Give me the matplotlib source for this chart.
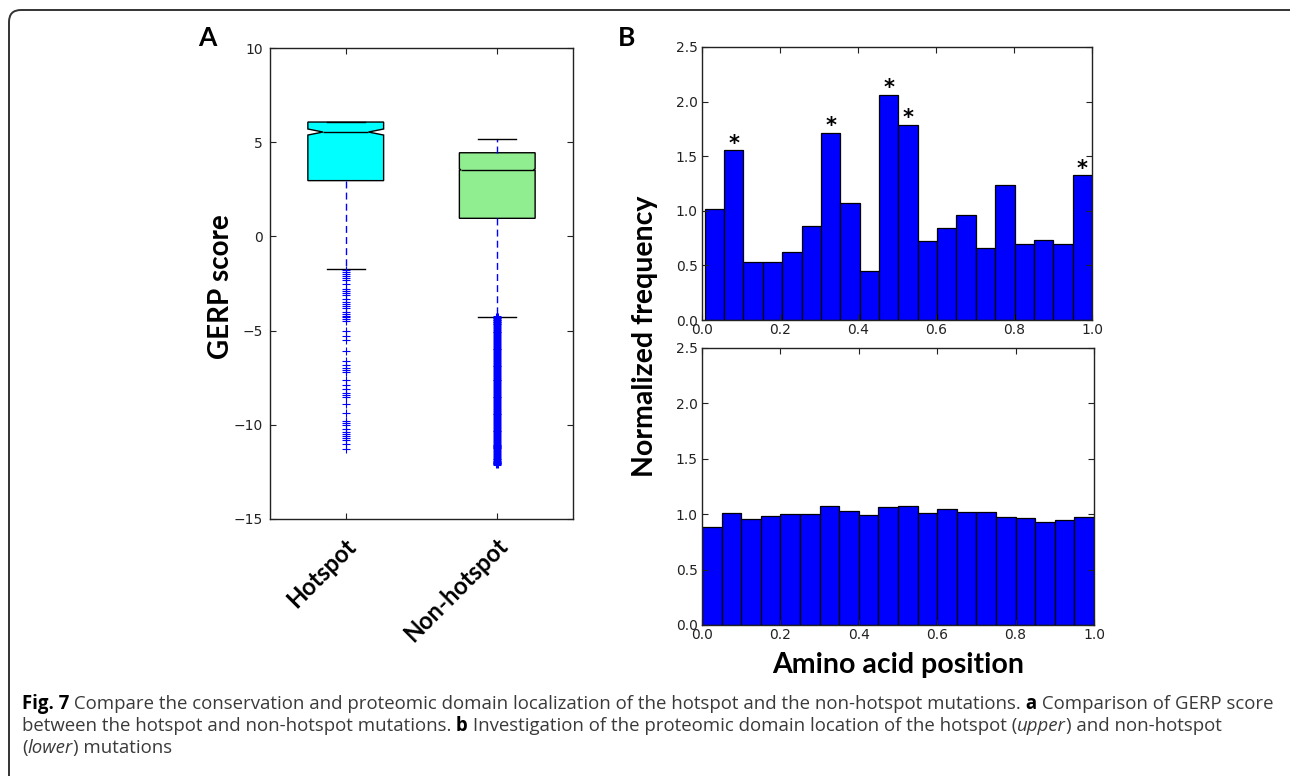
import numpy as np
import matplotlib
matplotlib.use("Agg")
import matplotlib.pyplot as plt
from matplotlib.patches import FancyBboxPatch
from matplotlib.path import Path
from matplotlib.transforms import ScaledTranslation, IdentityTransform

# ---- data ----
groups = ["Hotspot", "Non-hotspot"]
box_q1 = [2.96, 0.96]
box_med = [5.54, 3.54]
box_q3 = [6.07, 4.44]
box_whislo = [-1.72, -4.26]
box_whishi = [6.07, 5.17]
box_cilo = [5.38, 3.50]
box_cihi = [5.70, 3.58]
hot_fliers = [-1.8, -1.9, -2.0, -2.1, -2.2, -2.3, -2.5, -2.8, -2.9, -3.0, -3.1,
              -3.3, -3.5, -3.6, -3.7, -3.8, -4.0, -4.1, -4.2, -4.3, -4.4, -4.5,
              -5.0, -5.3, -5.5, -6.1, -6.6, -6.8, -7.0, -7.1, -7.2, -7.6, -7.9,
              -8.1, -8.3, -8.4, -8.5, -8.9, -9.4, -9.8, -9.9, -10.0, -10.2,
              -10.4, -10.5, -10.6, -10.7, -10.8, -11.0, -11.3]
nonhot_fliers = [-4.3, -4.4, -4.5, -4.6, -4.7, -4.85, -5.0, -5.15, -5.3, -5.45,
                 -5.6, -5.75, -5.9, -6.05, -6.2, -6.35, -6.5, -6.65, -6.8, -6.95,
                 -7.1, -7.25, -7.4, -7.55, -7.7, -7.85, -8.0, -8.15, -8.3, -8.45,
                 -8.6, -8.75, -8.9, -9.05, -9.2, -9.35, -9.5, -9.65, -9.8, -9.95,
                 -10.1, -10.25, -10.4, -10.55, -10.7, -10.85, -11.0, -11.1, -11.2,
                 -11.3, -11.45, -11.6, -11.75, -11.85, -11.95, -12.05, -12.1]

hot_hist = [1.02, 1.555, 0.534, 0.534, 0.625, 0.857, 1.716, 1.07, 0.445, 2.061,
            1.79, 0.72, 0.841, 0.966, 0.659, 1.232, 0.695, 0.732, 0.695, 1.326]
hot_bin_start = 0.007
hot_star_bins = [1, 6, 9, 10, 19]
nonhot_hist = [0.88, 1.015, 0.961, 0.982, 1.0, 1.006, 1.078, 1.03, 0.994, 1.063,
               1.072, 1.015, 1.048, 1.021, 1.021, 0.979, 0.967, 0.93, 0.952, 0.976]

W, H = 1290, 776
LABEL_FONT = ["Lato", "DejaVu Sans"]
CAP_FONT = ["Open Sans", "DejaVu Sans"]

plt.rcParams.update({
    "font.family": "DejaVu Sans",
    "xtick.direction": "in",
    "ytick.direction": "in",
    "xtick.top": True,
    "ytick.right": True,
    "axes.linewidth": 1.0,
    "axes.edgecolor": "#222222",
})

fig = plt.figure(figsize=(W / 100, H / 100), dpi=100)


def px_axes(left, right, top, bottom):
    return fig.add_axes([left / W, 1 - bottom / H, (right - left) / W, (bottom - top) / H])


def style_ticks(ax):
    ax.tick_params(axis="both", which="major", length=4, width=0.8,
                   labelsize=10, colors="#222222", pad=3)
    ax.tick_params(axis="both", which="minor", length=0)


# ---- panel A: boxplot ----
axA = px_axes(270, 573, 48, 519)
stats = []
for i in range(2):
    stats.append(dict(med=box_med[i], q1=box_q1[i], q3=box_q3[i],
                      whislo=box_whislo[i], whishi=box_whishi[i],
                      cilo=box_cilo[i], cihi=box_cihi[i],
                      fliers=hot_fliers if i == 0 else nonhot_fliers,
                      label=groups[i]))
positions = [1, 2]
notch_half = [0.15, 0.24]
bp = axA.bxp(stats, positions=positions, widths=0.5, capwidths=0.25,
             shownotches=True, patch_artist=True,
             boxprops=dict(edgecolor="black", linewidth=1.0),
             whiskerprops=dict(color="blue", linestyle=(0, (5, 3)), linewidth=1.0),
             capprops=dict(color="black", linewidth=1.0),
             medianprops=dict(color="black", linewidth=1.0),
             flierprops=dict(marker="+", markeredgecolor="blue", markersize=6,
                             markeredgewidth=0.8, linestyle="none"))
for patch, fc, pos, nh in zip(bp["boxes"], ["cyan", "#90ee90"], positions, notch_half):
    patch.set_facecolor(fc)
    verts = patch.get_path().vertices.copy()
    verts[3, 0] = pos + nh
    verts[8, 0] = pos - nh
    patch.set_path(Path(verts, patch.get_path().codes))
for med, pos, nh in zip(bp["medians"], positions, notch_half):
    med.set_xdata([pos - nh, pos + nh])
# the non-hotspot outliers form a solid band in the reference
bp["fliers"][1].set_markeredgewidth(2.2)

axA.set_xlim(0.5, 2.5)
axA.set_ylim(-15, 10)
axA.set_yticks([-15, -10, -5, 0, 5, 10])
style_ticks(axA)
axA.tick_params(axis="y", pad=5)
axA.set_xticks(positions)
axA.set_xticklabels(groups, rotation=45, ha="right", va="top",
                    fontsize=17, fontweight="bold", family=LABEL_FONT, color="black")
axA.tick_params(axis="x", pad=11)
for lab in axA.get_xticklabels():
    lab.set_transform(lab.get_transform() + ScaledTranslation(0.15, 0, fig.dpi_scale_trans))
fig.text(221 / W, 1 - 287 / H, "GERP score", rotation=90, ha="center", va="center",
         fontsize=20, fontweight="bold", family=LABEL_FONT)
fig.text(207 / W, 1 - 38 / H, "A", ha="center", va="center",
         fontsize=19, fontweight="bold", family=LABEL_FONT)

# ---- panel B: histograms ----
axT = px_axes(702, 1092, 47, 320)
axB = px_axes(702, 1094, 348, 625)

hot_edges = np.linspace(hot_bin_start, 1.0, len(hot_hist) + 1)
axT.bar(hot_edges[:-1], hot_hist, width=np.diff(hot_edges), align="edge",
        color="#0000ff", edgecolor="black", linewidth=0.9)
for b in hot_star_bins:
    xc = (hot_edges[b] + hot_edges[b + 1]) / 2
    axT.text(xc, hot_hist[b] + 0.005, "*", ha="center", va="baseline",
             fontsize=15, fontweight="bold", color="black")

non_edges = np.linspace(0.0, 1.0, len(nonhot_hist) + 1)
axB.bar(non_edges[:-1], nonhot_hist, width=np.diff(non_edges), align="edge",
        color="#0000ff", edgecolor="black", linewidth=0.9)

for ax in (axT, axB):
    ax.set_xlim(0, 1)
    ax.set_ylim(0, 2.5)
    ax.set_xticks([0, 0.2, 0.4, 0.6, 0.8, 1.0])
    ax.set_yticks([0, 0.5, 1.0, 1.5, 2.0, 2.5])
    ax.xaxis.set_major_formatter(plt.FormatStrFormatter("%.1f"))
    ax.yaxis.set_major_formatter(plt.FormatStrFormatter("%.1f"))
    style_ticks(ax)
    ax.tick_params(axis="x", pad=2)

fig.text(645 / W, 1 - 336 / H, "Normalized frequency", rotation=90, ha="center",
         va="center", fontsize=20.5, fontweight="bold", family=LABEL_FONT)
fig.text(898 / W, 1 - 665 / H, "Amino acid position", ha="center", va="center",
         fontsize=20.5, fontweight="bold", family=LABEL_FONT)
fig.text(627 / W, 1 - 38 / H, "B", ha="center", va="center",
         fontsize=19, fontweight="bold", family=LABEL_FONT)

# ---- frame ----
frame = FancyBboxPatch((9, -40), 1400, H - 10 + 40,
                       boxstyle="round,pad=0,rounding_size=12",
                       transform=IdentityTransform(), facecolor="none",
                       edgecolor="#333333", linewidth=1.4)
fig.add_artist(frame)

# ---- caption ----
caption = [
    [("Fig. 7", "bold", "normal"),
     (" Compare the conservation and proteomic domain localization of the hotspot and the non-hotspot mutations.", "normal", "normal"),
     (" a", "bold", "normal"),
     (" Comparison of GERP score", "normal", "normal")],
    [("between the hotspot and non-hotspot mutations.", "normal", "normal"),
     (" b", "bold", "normal"),
     (" Investigation of the proteomic domain location of the hotspot (", "normal", "normal"),
     ("upper", "normal", "italic"),
     (") and non-hotspot", "normal", "normal")],
    [("(", "normal", "normal"),
     ("lower", "normal", "italic"),
     (") mutations", "normal", "normal")],
]
cap_y = [704, 726, 748]
renderer = fig.canvas.get_renderer()
for line, yy in zip(caption, cap_y):
    x = 22
    for txt, wt, st in line:
        t = fig.text(x / W, 1 - yy / H, txt, ha="left", va="center", fontsize=13.4,
                     fontweight=wt, fontstyle=st, family=CAP_FONT,
                     color="black" if wt == "bold" else "#3a3a3a")
        x += t.get_window_extent(renderer).width

fig.savefig("out.png", dpi=100)
